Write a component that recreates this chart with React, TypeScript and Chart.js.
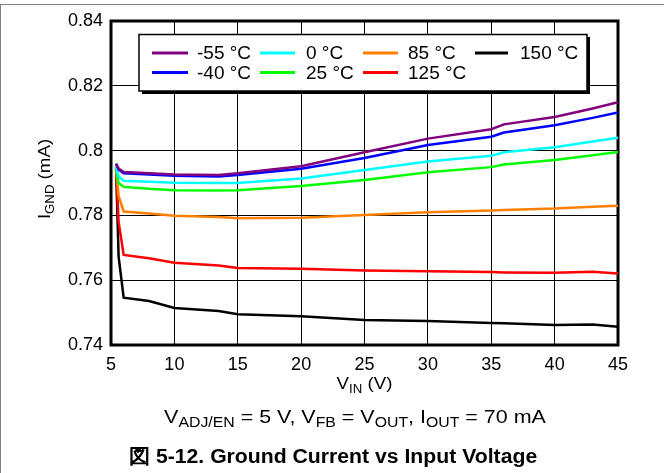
import React, { useEffect, useRef } from "react";
import { Chart, registerables } from "chart.js";

Chart.register(...registerables);

// ---- data ----
const voltages = [5.4, 5.6, 6, 8, 10, 13.5, 15, 20, 25, 30, 35, 36, 40, 43, 45];

const seriesLabels = ["-55 °C", "-40 °C", "0 °C", "25 °C", "85 °C", "125 °C", "150 °C"];
const seriesColors = ["#800080", "#0000ff", "#00ffff", "#00ff00", "#ff8000", "#ff0000", "#000000"];

const tempM55 = [0.7957, 0.7945, 0.7934, 0.7930, 0.7926, 0.7925, 0.7930, 0.7952, 0.7995, 0.8037, 0.8066, 0.8081, 0.8104, 0.8130, 0.8149];
const tempM40 = [0.7960, 0.7942, 0.7930, 0.7926, 0.7922, 0.7920, 0.7925, 0.7944, 0.7977, 0.8017, 0.8043, 0.8056, 0.8078, 0.8101, 0.8118];
const temp0 = [0.7950, 0.7920, 0.7907, 0.7904, 0.7901, 0.7900, 0.7900, 0.7914, 0.7940, 0.7966, 0.7984, 0.7995, 0.8010, 0.8028, 0.8040];
const temp25 = [0.7945, 0.7900, 0.7888, 0.7882, 0.7878, 0.7877, 0.7878, 0.7891, 0.7909, 0.7933, 0.7949, 0.7957, 0.7971, 0.7986, 0.7996];
const temp85 = [0.7945, 0.7860, 0.7812, 0.7806, 0.7799, 0.7795, 0.7791, 0.7793, 0.7801, 0.7810, 0.7815, 0.7817, 0.7821, 0.7827, 0.7830];
const temp125 = [0.7945, 0.7780, 0.7678, 0.7668, 0.7654, 0.7645, 0.7638, 0.7635, 0.7630, 0.7628, 0.7625, 0.7624, 0.7623, 0.7626, 0.7621];
const temp150 = [0.7950, 0.7673, 0.7546, 0.7536, 0.7514, 0.7505, 0.7495, 0.7489, 0.7477, 0.7474, 0.7468, 0.7467, 0.7462, 0.7463, 0.7456];

const seriesValues = [tempM55, tempM40, temp0, temp25, temp85, temp125, temp150];

const xTickLabels = ["5", "10", "15", "20", "25", "30", "35", "40", "45"];
const yTickLabels = ["0.74", "0.76", "0.78", "0.8", "0.82", "0.84"];

const FONT = "'Liberation Sans', Arial, sans-serif";

type Part = [string, boolean]; // text, isSubscript

function drawParts(ctx: CanvasRenderingContext2D, parts: Part[], cx: number, cy: number, size: number, bold = false, stretch = 1) {
  const subSize = Math.round(size * 0.72);
  const setFont = (p: Part) => {
    ctx.font = `${bold ? "bold " : ""}${p[1] ? subSize : size}px ${FONT}`;
  };
  const total = parts.reduce((s, p) => {
    setFont(p);
    return s + ctx.measureText(p[0]).width;
  }, 0);
  ctx.save();
  ctx.translate(cx, cy);
  ctx.scale(stretch, 1);
  let x = -total / 2;
  ctx.textBaseline = "alphabetic";
  ctx.textAlign = "left";
  const base = size * 0.36;
  for (const p of parts) {
    setFont(p);
    ctx.fillText(p[0], x, p[1] ? base + size * 0.22 : base);
    x += ctx.measureText(p[0]).width;
  }
  ctx.restore();
}

const decorPlugin = {
  id: "decor",
  beforeDraw(chart: any) {
    const ctx = chart.ctx as CanvasRenderingContext2D;
    ctx.save();
    ctx.fillStyle = "#fff";
    ctx.fillRect(0, 0, chart.width, chart.height);
    ctx.strokeStyle = "#808080";
    ctx.lineWidth = 1;
    ctx.beginPath();
    ctx.moveTo(0, 4.5);
    ctx.lineTo(chart.width, 4.5);
    ctx.moveTo(0.5, 4);
    ctx.lineTo(0.5, chart.height);
    ctx.stroke();
    ctx.restore();
  },
  beforeDatasetsDraw(chart: any) {
    const ctx = chart.ctx as CanvasRenderingContext2D;
    const a = chart.chartArea;
    ctx.save();
    ctx.strokeStyle = "#000";
    ctx.lineWidth = 3;
    ctx.strokeRect(a.left, a.top, a.right - a.left, a.bottom - a.top);
    ctx.restore();
  },
  afterDraw(chart: any) {
    const ctx = chart.ctx as CanvasRenderingContext2D;
    const a = chart.chartArea;
    ctx.save();
    ctx.fillStyle = "#000";
    // legend box with shadow
    ctx.fillRect(142, 37, 448, 57);
    ctx.fillStyle = "#fff";
    ctx.fillRect(139, 34, 448, 57);
    ctx.strokeStyle = "#000";
    ctx.lineWidth = 1.5;
    ctx.strokeRect(139, 34.5, 448, 56.5);
    const cols = [
      [152, 188, 197],
      [260, 295, 306],
      [363, 398, 408],
      [475, 508, 520],
    ];
    const rows = [53, 72.5];
    const order = [
      [0, 0, 0], [1, 0, 1], [2, 1, 0], [3, 1, 1], [4, 2, 0], [5, 2, 1], [6, 3, 0],
    ];
    ctx.font = `19px ${FONT}`;
    ctx.textBaseline = "middle";
    ctx.textAlign = "left";
    for (const [i, c, r] of order) {
      const col = cols[c];
      const y = rows[r];
      ctx.strokeStyle = seriesColors[i];
      ctx.lineWidth = 3;
      ctx.beginPath();
      ctx.moveTo(col[0], y);
      ctx.lineTo(col[1], y);
      ctx.stroke();
      ctx.fillStyle = "#000";
      ctx.fillText(seriesLabels[i], col[2], y + 1);
    }
    // axis titles
    ctx.fillStyle = "#000";
    drawParts(ctx, [["V", false], ["IN", true], [" (V)", false]], (a.left + a.right) / 2, 383, 17, false, 1.1);
    ctx.save();
    ctx.translate(44, (a.top + a.bottom) / 2 - 4);
    ctx.rotate(-Math.PI / 2);
    drawParts(ctx, [["I", false], ["GND", true], [" (mA)", false]], 0, 0, 17, false, 1.1);
    ctx.restore();
    // subtitle and caption
    drawParts(
      ctx,
      [["V", false], ["ADJ/EN", true], [" = 5 V, V", false], ["FB", true], [" = V", false], ["OUT", true], [", I", false], ["OUT", true], [" = 70 mA", false]],
      355, 416, 19, false, 1.13
    );
    drawParts(ctx, [["図 5-12. Ground Current vs Input Voltage", false]], 333, 456, 20, true, 1.06);
    ctx.restore();
  },
};

export default function App() {
  const ref = useRef<HTMLCanvasElement>(null);
  useEffect(() => {
    document.body.style.margin = "0";
    const canvas = ref.current!;
    const chart = new Chart(canvas, {
      type: "line",
      data: {
        datasets: seriesValues.map((vals, i) => ({
          label: seriesLabels[i],
          data: voltages.map((v, j) => ({ x: v, y: vals[j] })),
          borderColor: seriesColors[i],
          backgroundColor: seriesColors[i],
          borderWidth: 2.5,
          pointRadius: 0,
          tension: 0,
          fill: false,
        })),
      },
      options: {
        responsive: false,
        animation: false,
        devicePixelRatio: 1,
        layout: { padding: { left: 0, top: 21, right: 46, bottom: 0 } },
        plugins: { legend: { display: false }, tooltip: { enabled: false }, title: { display: false } },
        scales: {
          x: {
            type: "linear",
            min: 5,
            max: 45,
            afterFit: (s: any) => { s.height = 128; },
            afterBuildTicks: (s: any) => { s.ticks = xTickLabels.map((t) => ({ value: Number(t) })); },
            ticks: {
              callback: (_v: any, i: number) => xTickLabels[i],
              font: { family: FONT, size: 18 },
              color: "#000",
              padding: 9,
              maxRotation: 0,
              autoSkip: false,
            },
            grid: { color: "#000", lineWidth: 1, drawTicks: false },
            border: { display: false },
          },
          y: {
            type: "linear",
            min: 0.74,
            max: 0.84,
            afterFit: (s: any) => { s.width = 111; },
            afterBuildTicks: (s: any) => { s.ticks = yTickLabels.map((t) => ({ value: Number(t) })); },
            ticks: {
              callback: (_v: any, i: number) => yTickLabels[i],
              font: { family: FONT, size: 18 },
              color: "#000",
              padding: 8,
              autoSkip: false,
            },
            grid: { color: "#000", lineWidth: 1, drawTicks: false },
            border: { display: false },
          },
        },
      },
      plugins: [decorPlugin],
    });
    return () => chart.destroy();
  }, []);
  return <canvas ref={ref} width={664} height={473} style={{ display: "block" }} />;
}
